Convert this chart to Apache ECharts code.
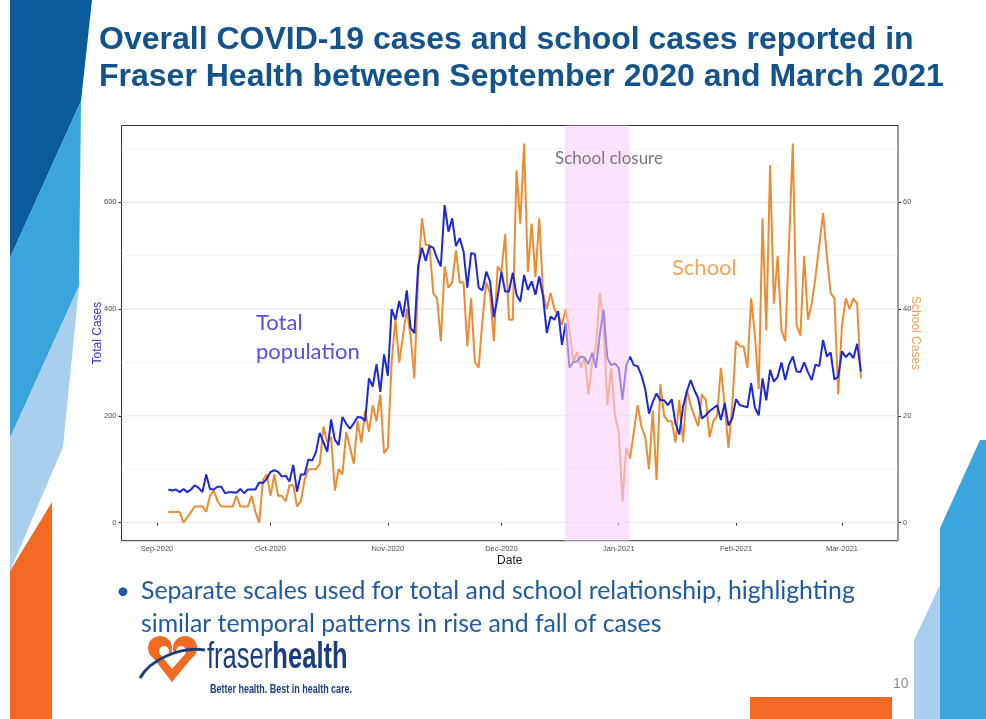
<!DOCTYPE html>
<html><head><meta charset="utf-8">
<script src="https://cdn.jsdelivr.net/npm/echarts@6/dist/echarts.min.js"></script>
<style>html,body{margin:0;padding:0;background:#fff}#c{width:986px;height:719px}</style>
</head><body><div id="c"></div>
<script>
// ---- data (daily values) ----
const startDate = '2020-09-04';
const totalSep = [62,60,62,57,63,57,62,70,65,57,90,63,62,67,67,55,57,57,56,63,55,62,62,62,75,74,82];
const totalOct = [95,98,95,86,88,77,108,58,90,90,118,116,132,168,150,133,193,155,145,198,185,176,186,198,197,190,270,255,297,245,315];
const totalNov = [275,400,380,415,385,435,365,355,480,515,490,518,515,495,480,595,545,570,518,533,508,440,505,503,440,435,470,452,385,422];
const totalDec = [470,433,433,468,427,414,464,436,452,427,461,424,355,386,380,396,333,374,290,301,302,311,309,297,318,290,352,399,308,295,298];
const totalJan = [290,230,295,311,295,293,276,250,204,226,242,229,229,220,231,186,165,217,245,267,248,233,195,201,209,214,220,192,224,182,195];
const totalFeb = [231,220,218,216,261,215,201,270,229,286,264,273,300,267,296,311,283,282,300,282,267,296,293,342,311,319,268,273];
const totalMar = [321,310,318,308,335,283];

const schoolSep = [2,2,2,2,0,1,2,3,3,3,2,5,6,4,3,3,3,3,5,3,3,3,5,2,0,8,9];
const schoolOct = [5,9,5,5,4,7,7,3,4,8,10,10,10,11,18,15,16,6,10,9,17,14,11,19,15,21,17,22,19,24,13];
const schoolNov = [14,30,38,30,35,40,35,27,46,57,52,52,43,42,34,48,44,45,51,45,45,33,42,30,29,38,45,43,34,48];
const schoolDec = [47,54,38,38,66,56,71,47,56,46,57,43,40,43,40,39,37,40,36,30,32,29,31,24,30,33,43,37,22,29,20];
const schoolJan = [17,4,14,12,17,22,18,16,10,21,8,26,20,19,19,15,23,15,25,22,20,18,24,23,16,19,20,29,22,14,22];
const schoolFeb = [34,33,33,29,42,35,25,57,36,67,41,50,36,34,52,71,37,35,50,38,41,46,52,58,50,43,42,24];
const schoolMar = [37,42,40,42,41,27];

const closure = [['2020-12-17T19:00:00Z', '2021-01-03T19:00:00Z']];
const monthTicks = ['2020-09-01','2020-10-01','2020-11-01','2020-12-01','2021-01-01','2021-02-01','2021-03-01'];
const monthNames = ['Jan','Feb','Mar','Apr','May','Jun','Jul','Aug','Sep','Oct','Nov','Dec'];
const leftTicks = [0,200,400,600];
const rightTicks = [0,20,40,60];
const gridValues = [0,100,200,300,400,500,600,700];

// ---- build ----
const DAY = 86400000;
const t0 = Date.parse(startDate + 'T00:00:00Z');
const total = [].concat(totalSep,totalOct,totalNov,totalDec,totalJan,totalFeb,totalMar);
const school = [].concat(schoolSep,schoolOct,schoolNov,schoolDec,schoolJan,schoolFeb,schoolMar);
const totalData = total.map((v,i)=>[t0+i*DAY, v]);
const schoolData = school.map((v,i)=>[t0+i*DAY, v]);
const origin = Date.parse('2020-09-01T00:00:00Z');
const xMin = origin - 9.38*DAY, xMax = origin + 195.8*DAY;
const tickTs = monthTicks.map(s=>Date.parse(s+'T00:00:00Z'));
const closureData = closure.map(([s,e])=>[Date.parse(s), Date.parse(e)]);

const FF = 'Liberation Sans';
const navy = '#1b3d7e';
const orangeLogo = '#f26a21';

const chart = echarts.init(document.getElementById('c'), null, {renderer:'canvas'});
chart.setOption({
  animation:false,
  backgroundColor:'#ffffff',
  textStyle:{fontFamily:FF},
  grid:{left:121.5, right:88, top:125.5, bottom:178.3, show:true, borderColor:'#333333', borderWidth:1, backgroundColor:'transparent'},
  xAxis:{type:'value', min:xMin, max:xMax,
    name:'Date', nameLocation:'middle', nameGap:14, nameMoveOverlap:false,
    nameTextStyle:{fontSize:12, color:'#1a1a1a', fontFamily:FF},
    axisLine:{show:false}, splitLine:{show:false},
    axisTick:{show:true, customValues:tickTs, length:3, lineStyle:{color:'#333333'}},
    axisLabel:{customValues:tickTs, fontSize:7.5, color:'#4d4d4d', margin:4, fontFamily:FF,
      formatter:(v)=>{const d=new Date(v); return monthNames[d.getUTCMonth()]+'-'+d.getUTCFullYear();}}
  },
  yAxis:[
    {type:'value', min:-34, max:744, position:'left',
     name:'Total Cases', nameLocation:'middle', nameGap:18, nameMoveOverlap:false,
     nameTextStyle:{color:'#3535d0', fontSize:12, fontFamily:FF},
     axisLine:{show:false}, splitLine:{show:false},
     axisTick:{show:true, customValues:leftTicks, length:3, lineStyle:{color:'#333333'}},
     axisLabel:{customValues:leftTicks, fontSize:7.5, color:'#4d4d4d', margin:5, fontFamily:FF}},
    {type:'value', min:-3.4, max:74.4, position:'right',
     name:'School Cases', nameLocation:'middle', nameRotate:-90, nameGap:11, nameMoveOverlap:false,
     nameTextStyle:{color:'#e9a15a', fontSize:12, fontFamily:FF},
     axisLine:{show:false}, splitLine:{show:false},
     axisTick:{show:true, customValues:rightTicks, length:3, lineStyle:{color:'#333333'}},
     axisLabel:{customValues:rightTicks, fontSize:7.5, color:'#4d4d4d', margin:5, fontFamily:FF}}
  ],
  series:[
    {type:'custom', name:'grid', xAxisIndex:0, yAxisIndex:0, z:1, silent:true,
     data:gridValues.map(v=>[xMin, v]), encode:{x:0, y:1},
     renderItem:(params, api)=>{
       const cs = params.coordSys; const v = api.value(1);
       const y = api.coord([api.value(0), v])[1];
       const major = v % 200 === 0;
       return {type:'line', shape:{x1:cs.x, y1:y, x2:cs.x+cs.width, y2:y},
               style:{stroke: major ? '#e8e8e8' : '#f1f1f1', lineWidth: major ? 1.1 : 0.7}};
     }},
    {type:'line', name:'School', yAxisIndex:1, data:schoolData, symbol:'none', showSymbol:false, z:2, silent:true,
     lineStyle:{color:'#ec8c32', width:2}},
    {type:'line', name:'Total', yAxisIndex:0, data:totalData, symbol:'none', showSymbol:false, z:3, silent:true,
     lineStyle:{color:'#1c28d9', width:2}},
    {type:'custom', name:'closure', xAxisIndex:0, yAxisIndex:0, z:10, silent:true,
     data:closureData, encode:{x:[0,1]},
     renderItem:(params, api)=>{
       const cs = params.coordSys;
       const x1 = api.coord([api.value(0), 0])[0];
       const x2 = api.coord([api.value(1), 0])[0];
       return {type:'rect', shape:{x:x1, y:cs.y, width:x2-x1, height:cs.height},
               style:{fill:'rgba(250,205,248,0.58)'}};
     }}
  ],
  graphic:[
    {type:'polygon', z:-1, shape:{points:[[10,0],[92,0],[81,101],[10,258]]}, style:{fill:'#0b5c9a'}},
    {type:'polygon', z:-1, shape:{points:[[81,101],[79,286],[10,438],[10,258]]}, style:{fill:'#3aa4dd'}},
    {type:'polygon', z:-1, shape:{points:[[79,286],[63,447],[10,571],[10,438]]}, style:{fill:'#a9cfee'}},
    {type:'polygon', z:-1, shape:{points:[[52,502],[52,719],[10,719],[10,571]]}, style:{fill:'#f26a21'}},
    {type:'polygon', z:-1, shape:{points:[[940,528],[980,440],[986,440],[986,719],[940,719]]}, style:{fill:'#3aa6de'}},
    {type:'polygon', z:-1, shape:{points:[[914,640],[940,585],[940,719],[914,719]]}, style:{fill:'#a9cfee'}},
    {type:'rect', z:-1, shape:{x:750, y:697, width:142, height:22}, style:{fill:'#f26a21'}},
    {type:'text', x:99, y:40.5, style:{text:'Overall COVID-19 cases and school cases reported in', font:'bold 32px "Liberation Sans"', fill:'#12538e', textVerticalAlign:'middle'}},
    {type:'text', x:99, y:77.5, style:{text:'Fraser Health between September 2020 and March 2021', font:'bold 32px "Liberation Sans"', fill:'#12538e', textVerticalAlign:'middle'}},
    {type:'text', x:609, y:158.5, z:20, style:{text:'School closure', font:'17px Lato', fill:'#787878', textAlign:'center', textVerticalAlign:'middle'}},
    {type:'text', x:256, y:323, z:20, style:{text:'Total', font:'22px Lato', fill:'#5850e4', textVerticalAlign:'middle'}},
    {type:'text', x:256, y:352, z:20, style:{text:'population', font:'22px Lato', fill:'#5850e4', textVerticalAlign:'middle'}},
    {type:'text', x:672, y:268, z:20, style:{text:'School', font:'22px Lato', fill:'#f2a55a', textVerticalAlign:'middle'}},
    {type:'text', x:116, y:591, style:{text:'•', font:'24px Lato', fill:'#1f5aa0', textVerticalAlign:'middle'}},
    {type:'text', x:141, y:591, style:{text:'Separate scales used for total and school relationship, highlighting', font:'24.8px Lato', fill:'#1f5aa0', textVerticalAlign:'middle'}},
    {type:'text', x:141, y:624, style:{text:'similar temporal patterns in rise and fall of cases', font:'24.8px Lato', fill:'#1f5aa0', textVerticalAlign:'middle'}},
    // logo heart
    {type:'circle', shape:{cx:160, cy:648, r:12}, style:{fill:orangeLogo}},
    {type:'circle', shape:{cx:185, cy:648, r:12}, style:{fill:orangeLogo}},
    {type:'polygon', shape:{points:[[148.5,652],[196.5,652],[172,682]]}, style:{fill:orangeLogo}},
    {type:'circle', shape:{cx:164, cy:651, r:5}, style:{fill:'#ffffff'}},
    {type:'circle', shape:{cx:181, cy:651, r:5}, style:{fill:'#ffffff'}},
    {type:'polygon', shape:{points:[[159,653],[186,653],[172,669]]}, style:{fill:'#ffffff'}},
    {type:'bezierCurve', shape:{x1:140, y1:678, cpx1:150, cpy1:660, cpx2:180, cpy2:646, x2:205, y2:650}, style:{stroke:navy, lineWidth:3, fill:null}},
    {type:'text', x:207, y:658, scaleX:0.71, style:{text:'{a|fraser}{b|health}', fill:navy, textVerticalAlign:'middle',
      rich:{a:{font:'36px "Liberation Sans"', fill:navy}, b:{font:'bold 36px "Liberation Sans"', fill:navy}}}},
    {type:'text', x:210, y:689.5, scaleX:0.69, style:{text:'Better health. Best in health care.', font:'bold 13px "Liberation Sans"', fill:navy, textVerticalAlign:'middle'}},
    {type:'text', x:893, y:684, style:{text:'10', font:'14px "Liberation Sans"', fill:'#8c8c8c', textVerticalAlign:'middle'}}
  ]
});
</script>
</body></html>
